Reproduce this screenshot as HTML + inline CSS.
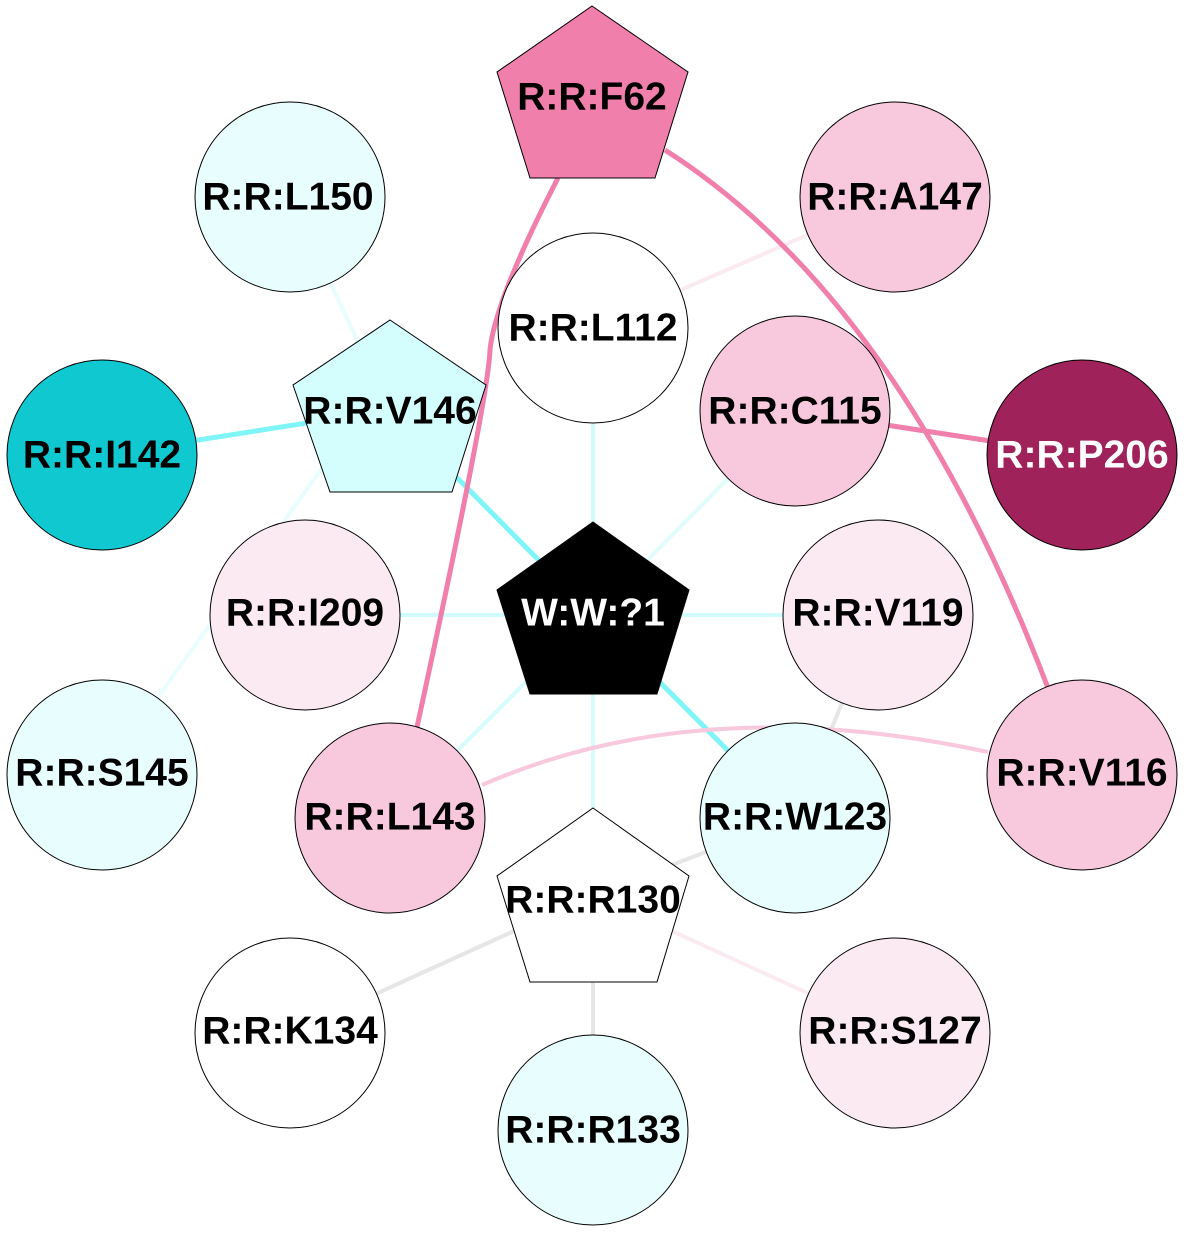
<!DOCTYPE html>
<html><head><meta charset="utf-8"><style>
html,body{margin:0;padding:0;background:#fff;}
svg{display:block;}
text{font-family:"Liberation Sans",Arial,sans-serif;font-weight:bold;font-size:39px;text-anchor:middle;dominant-baseline:central;}
</style></head><body>
<svg width="1184" height="1235" viewBox="0 0 1184 1235" xmlns="http://www.w3.org/2000/svg">
<g fill="none" stroke-width="4">
<line x1="390" y1="410" x2="290" y2="197" stroke="#e8fdfd"/>
<line x1="335" y1="450" x2="102" y2="775" stroke="#e8fdfd"/>
<line x1="390" y1="410" x2="102" y2="455" stroke="#7ff5f8" stroke-width="5"/>
<line x1="390" y1="410" x2="593" y2="615" stroke="#7ff5f8" stroke-width="5"/>
<line x1="593" y1="328" x2="895" y2="197" stroke="#fbeaf1"/>
<line x1="593" y1="328" x2="593" y2="615" stroke="#d0fbfc"/>
<line x1="795" y1="411" x2="593" y2="615" stroke="#e0fcfc"/>
<line x1="305" y1="615" x2="593" y2="615" stroke="#d0fbfc"/>
<line x1="878" y1="615" x2="593" y2="615" stroke="#d0fbfc"/>
<line x1="593" y1="615" x2="795" y2="818" stroke="#7ff5f8" stroke-width="5"/>
<line x1="593" y1="615" x2="390" y2="818" stroke="#d8fbfc"/>
<line x1="593" y1="615" x2="593" y2="895" stroke="#d8fbfc"/>
<line x1="878" y1="615" x2="795" y2="818" stroke="#e6e6e6"/>
<line x1="593" y1="895" x2="795" y2="818" stroke="#e6e6e6"/>
<line x1="593" y1="895" x2="290" y2="1033" stroke="#e6e6e6"/>
<line x1="593" y1="895" x2="593" y2="1130" stroke="#e6e6e6"/>
<line x1="593" y1="895" x2="895" y2="1033" stroke="#fbeaf1"/>
<line x1="795" y1="411" x2="1082" y2="455" stroke="#f07fab" stroke-width="5"/>
<path d="M558,178 Q495,300 490,350 Q488,400 417,727" stroke="#f07fab" stroke-width="5"/>
<path d="M665,150 Q900,300 1048,688" stroke="#f07fab" stroke-width="5"/>
<path d="M482,785 Q700,690 988,752" stroke="#f8c8dc" stroke-width="4"/>
</g>
<g stroke="#000" stroke-width="1">
<circle cx="290" cy="197" r="95" fill="#e8fdfd"/>
<circle cx="895" cy="197" r="95" fill="#f8c8dc"/>
<circle cx="593" cy="328" r="95" fill="#fff"/>
<circle cx="795" cy="411" r="95" fill="#f8c8dc"/>
<circle cx="1082" cy="455" r="95" fill="#a0225a"/>
<circle cx="102" cy="455" r="95" fill="#10c8d0"/>
<circle cx="305" cy="615" r="95" fill="#fbeaf1"/>
<circle cx="878" cy="615" r="95" fill="#fbeaf1"/>
<circle cx="102" cy="775" r="95" fill="#e8fdfd"/>
<circle cx="390" cy="818" r="95" fill="#f8c8dc"/>
<circle cx="795" cy="818" r="95" fill="#e8fdfd"/>
<circle cx="1082" cy="775" r="95" fill="#f8c8dc"/>
<circle cx="290" cy="1033" r="95" fill="#fff"/>
<circle cx="895" cy="1033" r="95" fill="#fbeaf1"/>
<circle cx="593" cy="1130" r="95" fill="#e8fdfd"/>
<polygon points="390,320 486,385 452,492 330,492 293,385" fill="#d4fdfd"/>
<polygon points="592,6 688,72 655,178 530,178 497,72" fill="#f07fab"/>
<polygon points="593,522 689,590 657,694 530,694 497,590" fill="#000"/>
<polygon points="593,808 689,876 657,982 530,982 497,876" fill="#fff"/>
</g>
<text x="288" y="197">R:R:L150</text>
<text x="895" y="197">R:R:A147</text>
<text x="592" y="97">R:R:F62</text>
<text x="593" y="328">R:R:L112</text>
<text x="795" y="411">R:R:C115</text>
<text x="1082" y="455" fill="#fff">R:R:P206</text>
<text x="102" y="455">R:R:I142</text>
<text x="390" y="411">R:R:V146</text>
<text x="305" y="613">R:R:I209</text>
<text x="593" y="613" fill="#fff">W:W:?1</text>
<text x="878" y="613">R:R:V119</text>
<text x="102" y="773">R:R:S145</text>
<text x="390" y="817">R:R:L143</text>
<text x="795" y="817">R:R:W123</text>
<text x="1082" y="773">R:R:V116</text>
<text x="593" y="900">R:R:R130</text>
<text x="290" y="1031">R:R:K134</text>
<text x="895" y="1031">R:R:S127</text>
<text x="593" y="1130">R:R:R133</text>
</svg>
</body></html>
